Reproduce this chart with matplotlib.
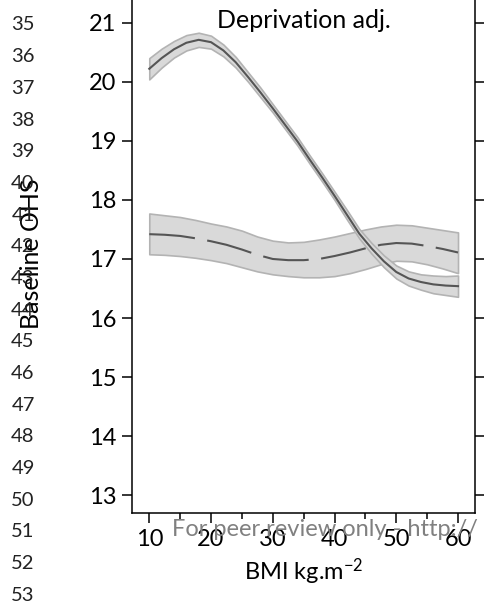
import matplotlib
matplotlib.use("Agg")
import matplotlib.pyplot as plt

plt.rcParams['font.family'] = ['Lato', 'DejaVu Sans']
plt.rcParams['mathtext.default'] = 'regular'

# solid curve (with CI band)
bmi_a = [10, 12, 14, 16, 18, 20, 22, 24, 26, 28, 30, 32, 34, 36, 38, 40, 42, 44, 46, 48, 50, 52, 54, 56, 58, 60]
ohs_a = [20.22, 20.40, 20.55, 20.66, 20.71, 20.67, 20.53, 20.33, 20.08, 19.82, 19.55, 19.27, 18.99,
         18.68, 18.38, 18.07, 17.75, 17.43, 17.18, 16.96, 16.78, 16.67, 16.61, 16.57, 16.55, 16.54]
hi_a = [20.40, 20.56, 20.69, 20.79, 20.83, 20.78, 20.63, 20.42, 20.16, 19.90, 19.62, 19.34, 19.06,
        18.75, 18.45, 18.14, 17.83, 17.51, 17.27, 17.06, 16.89, 16.79, 16.74, 16.72, 16.71, 16.72]
lo_a = [20.04, 20.24, 20.41, 20.53, 20.59, 20.56, 20.43, 20.24, 20.00, 19.74, 19.48, 19.20, 18.92,
        18.61, 18.31, 18.00, 17.67, 17.35, 17.09, 16.86, 16.67, 16.55, 16.48, 16.42, 16.39, 16.36]

# dashed curve (with CI band)
bmi_b = [10, 12.5, 15, 17.5, 20, 22.5, 25, 27.5, 30, 32.5, 35, 37.5, 40, 42.5, 45, 47.5, 50, 52.5, 55, 57.5, 60]
ohs_b = [17.42, 17.41, 17.39, 17.35, 17.30, 17.24, 17.16, 17.07, 17.00, 16.98, 16.98, 17.00, 17.05,
         17.11, 17.18, 17.24, 17.27, 17.26, 17.22, 17.17, 17.11]
hi_b = [17.77, 17.74, 17.71, 17.66, 17.60, 17.55, 17.48, 17.38, 17.31, 17.28, 17.29, 17.33, 17.38,
        17.44, 17.50, 17.55, 17.58, 17.57, 17.53, 17.49, 17.45]
lo_b = [17.08, 17.07, 17.05, 17.02, 16.98, 16.93, 16.86, 16.79, 16.74, 16.71, 16.69, 16.69, 16.71,
        16.76, 16.83, 16.91, 16.97, 16.96, 16.91, 16.84, 16.76]

yticks = [13, 14, 15, 16, 17, 18, 19, 20, 21]
xticks = [10, 20, 30, 40, 50, 60]
xminor = [15, 25, 35, 45, 55]
line_numbers = list(range(35, 54))

fig = plt.figure(figsize=(4.84, 6.02), dpi=100)
ax = fig.add_axes([132/484, 1 - 513/602, (475-132)/484, 513/602])

band_fc = '#d9d9d9'
band_ec = '#b3b3b3'
line_c = '#555555'

ax.fill_between(bmi_b, lo_b, hi_b, facecolor=band_fc, edgecolor=band_ec, linewidth=1.2, zorder=1)
ax.plot(bmi_b, ohs_b, color=line_c, lw=1.5, linestyle=(0, (22, 6)), zorder=2)
ax.fill_between(bmi_a, lo_a, hi_a, facecolor=band_fc, edgecolor=band_ec, linewidth=1.2, zorder=3)
ax.plot(bmi_a, ohs_a, color=line_c, lw=1.5, zorder=4)

ax.set_xlim(7.2, 62.75)
ax.set_ylim(12.7, 21.384)
ax.set_xticks(xticks)
ax.set_xticks(xminor, minor=True)
ax.set_yticks(yticks)
ax.spines['top'].set_visible(False)
for s in ['left', 'bottom', 'right']:
    ax.spines[s].set_linewidth(1.1)
ax.tick_params(axis='both', which='major', length=7.2, width=1.1, labelsize=17, pad=4)
ax.tick_params(axis='x', which='minor', length=4, width=1.1)
ax.tick_params(axis='y', right=True, labelright=False)

# panel title
ax.text(0.5, 1 - 28/513, 'Deprivation adj.', transform=ax.transAxes, ha='center',
        va='baseline', fontsize=18)

fig.text(304/484, 1 - 580/602, 'BMI kg.m$^{-2}$', ha='center', va='baseline', fontsize=17)
fig.text(32/484, 1 - 254/602, 'Baseline OHS', rotation=90, ha='center', va='center', fontsize=18)

# page line numbers from the source document
for i, n in enumerate(line_numbers):
    fig.text(23/484, 1 - (25 + 31.67*i)/602, str(n), ha='center', va='center', fontsize=14.5, color='#222222')

fig.text(172/484, 1 - 536/602, 'For peer review only - http://',
         ha='left', va='baseline', fontsize=17, color='#808080', zorder=10)

fig.savefig('out.png', dpi=100)
